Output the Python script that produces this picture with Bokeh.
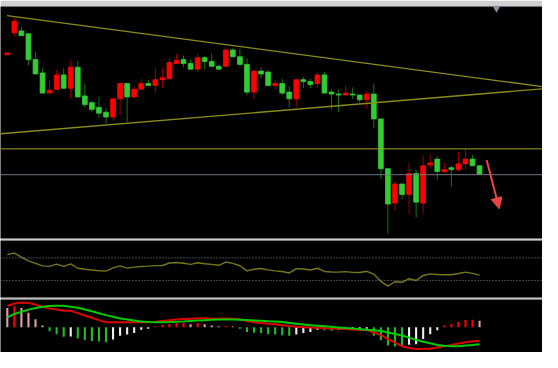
from bokeh.plotting import figure
from bokeh.layouts import column
from bokeh.models import Range1d, Span, Arrow, NormalHead, ColumnDataSource
from bokeh.embed import file_html
from bokeh.resources import INLINE

# ---------------- data ----------------
opens = [193, 216, 218, 215, 188, 174, 153, 157, 172, 158,
         180, 150, 143, 138, 133, 128, 147, 163, 149, 157,
         163, 161, 167, 168, 184, 188, 184, 178, 190, 186,
         181, 181, 198, 191, 183, 154, 176, 175, 161, 163,
         154, 147, 167, 165, 163, 172, 154, 152, 151, 152,
         151, 146, 152, 126, 74, 38, 58, 47, 69, 38,
         78, 84, 71, 75, 73, 79, 84, 77]
highs = [195, 232, 222, 215, 196, 179, 167, 177, 179, 187,
         187, 163, 145, 149, 137, 147, 163, 163, 160, 168,
         167, 179, 180, 189, 194, 192, 188, 194, 192, 194,
         183, 201, 200, 199, 189, 176, 180, 177, 167, 168,
         160, 167, 170, 168, 175, 175, 157, 157, 161, 159,
         151, 155, 163, 126, 74, 61, 58, 80, 73, 88,
         89, 87, 80, 77, 92, 95, 88, 78]
lows = [193, 212, 213, 182, 173, 153, 153, 156, 158, 147,
        149, 138, 133, 127, 121, 124, 130, 123, 149, 157,
        161, 153, 158, 168, 184, 180, 178, 175, 178, 181,
        178, 181, 190, 182, 151, 147, 169, 160, 157, 151,
        138, 139, 158, 158, 159, 153, 136, 133, 151, 147,
        143, 137, 116, 63, 6, 30, 42, 27, 23, 26,
        74, 62, 69, 55, 71, 73, 77, 68]
closes = [195, 228, 213, 188, 173, 153, 156, 172, 158, 180,
          149, 141, 136, 132, 128, 147, 163, 149, 157, 163,
          161, 167, 169, 185, 187, 184, 178, 190, 186, 181,
          178, 198, 191, 183, 154, 176, 173, 161, 163, 153,
          147, 167, 165, 162, 172, 153, 152, 151, 153, 151,
          146, 152, 126, 74, 37, 58, 47, 69, 39, 77,
          80, 71, 73, 73, 79, 84, 77, 68]

rsi = [75.9, 78.6, 71.4, 64.6, 60.2, 55.8, 55.0, 59.0, 54.8, 59.4,
       51.6, 49.9, 48.4, 47.2, 46.4, 52.3, 55.8, 51.9, 53.6, 54.8,
       55.3, 56.3, 56.5, 60.9, 61.9, 60.4, 58.4, 61.4, 59.7, 58.5,
       56.8, 62.6, 60.2, 56.0, 46.9, 49.9, 51.1, 48.6, 46.9, 45.9,
       43.2, 50.8, 50.3, 48.4, 51.6, 45.9, 44.8, 44.7, 45.5, 44.2,
       44.0, 46.2, 41.0, 28.3, 19.7, 27.6, 26.6, 33.0, 29.8, 38.8,
       41.6, 40.6, 40.1, 40.1, 42.3, 44.7, 42.5, 39.4]
rsi_levels = [70, 30]

macd_main = [21.9, 24.5, 25.7, 25.1, 23.4, 21.3, 19.4, 18.4, 17.0, 16.9,
             14.6, 12.1, 9.7, 7.3, 5.0, 5.0, 5.0, 5.0, 5.0, 5.0,
             5.0, 5.5, 6.4, 7.2, 8.0, 8.4, 8.8, 9.2, 9.2, 8.8,
             8.8, 9.0, 8.6, 8.1, 6.4, 5.2, 4.3, 3.6, 2.9, 1.9,
             1.1, 0.4, 0.0, -0.4, -0.7, -1.1, -1.4, -1.7, -2.0, -2.4,
             -2.7, -3.0, -5.5, -8.3, -12.3, -16.1, -19.8, -21.6, -22.6, -22.5,
             -22.3, -21.1, -19.7, -18.5, -17.0, -15.6, -14.7, -14.3]
macd_signal = [10.1, 13.7, 16.0, 18.2, 19.8, 21.1, 22.0, 22.3, 22.1, 21.2,
               20.1, 18.3, 16.5, 14.5, 12.5, 10.7, 8.9, 7.9, 6.8, 5.9,
               5.3, 5.0, 5.2, 5.4, 5.7, 6.0, 6.4, 6.8, 7.2, 7.6,
               7.9, 8.0, 8.0, 7.7, 7.4, 7.0, 6.6, 6.1, 5.8, 5.3,
               4.4, 3.5, 2.7, 2.1, 1.5, 0.9, 0.3, -0.3, -0.9, -1.5,
               -2.1, -2.7, -3.2, -4.0, -5.6, -7.1, -8.7, -10.9, -13.2, -15.1,
               -16.8, -18.5, -19.3, -19.9, -19.8, -19.0, -18.4, -17.7]
macd_hist = [20.0, 21.7, 20.0, 15.0, 8.3, 1.7, -4.3, -7.3, -10.0, -9.7,
             -11.7, -13.3, -14.3, -15.0, -15.7, -12.7, -9.0, -7.7, -6.0, -2.7,
             -1.7, 1.0, 2.3, 3.3, 4.3, 4.7, 3.0, 4.3, 3.0, 1.7,
             1.0, 1.3, 0.7, -1.7, -5.0, -5.7, -6.0, -7.3, -7.7, -8.3,
             -9.0, -7.7, -6.0, -5.0, -2.7, -3.3, -3.7, -3.0, -2.7, -2.3,
             -2.0, -1.7, -9.0, -13.3, -19.0, -20.0, -20.3, -18.3, -17.7, -12.3,
             -7.3, -3.3, 1.7, 3.3, 5.7, 7.3, 7.7, 6.7]
macd_hist_before = 22.0  # bar just left of the window

# drawn objects (bar index, price)
upper_trend = [(-0.04, 234.0), (76.0, 159.7)]
lower_trend = [(-0.97, 110.5), (76.0, 157.5)]
level_olive = 94.7
level_grey = 67.7
arrow_from = (68.0, 83.0)
arrow_to = (69.8, 32.0)
shift_marker = (69.4, 242.5)

n = len(opens)
idx = list(range(n))

# ---------------- styling ----------------
W = 542
RED, GREEN = "#ff0000", "#33cc33"
RED_WICK, GREEN_WICK = "#9a0000", "#0e7a0e"
OLIVE = "#8c8c1a"
SEP = "#bdbdbd"

x_rng = Range1d(-0.966, 75.93)


def base_fig(h, yr, top, bottom, border):
    p = figure(width=W, height=h, x_range=x_rng, y_range=yr, title=None,
               output_backend="svg", toolbar_location=None,
               x_axis_location=None, y_axis_location=None,
               min_border_left=0, min_border_right=0,
               min_border_top=top, min_border_bottom=bottom,
               background_fill_color="black", border_fill_color=border,
               outline_line_color=None)
    p.xgrid.visible = False
    p.ygrid.visible = False
    return p


# ---------------- main price panel ----------------
main = base_fig(240, Range1d(1, 243.5), 6, 2, "#cfcfcf")

up = [c >= o for o, c in zip(opens, closes)]
src = ColumnDataSource(dict(
    x=idx, high=highs, low=lows,
    top=[max(o, c) for o, c in zip(opens, closes)],
    bottom=[min(o, c) for o, c in zip(opens, closes)],
    fill=[RED if u else GREEN for u in up],
    wick=[RED_WICK if u else GREEN_WICK for u in up],
))
main.segment(x0="x", y0="low", x1="x", y1="high", source=src,
             line_color="wick", line_width=1)
main.vbar(x="x", width=0.68, top="top", bottom="bottom", source=src,
          fill_color="fill", line_color="fill", line_width=0.8)

for (a, b) in (upper_trend, lower_trend):
    main.line([a[0], b[0]], [a[1], b[1]], line_color=OLIVE, line_width=1.3)

main.add_layout(Span(location=level_olive, dimension="width",
                     line_color="#a3a324", line_width=1))
main.add_layout(Span(location=level_grey, dimension="width",
                     line_color="#6f7682", line_width=1))

acol = "#ee4444"
main.add_layout(Arrow(end=NormalHead(size=11, fill_color=acol, line_color=acol),
                      x_start=arrow_from[0], y_start=arrow_from[1],
                      x_end=arrow_to[0], y_end=arrow_to[1],
                      line_color=acol, line_width=2))
main.scatter([shift_marker[0]], [shift_marker[1]], marker="inverted_triangle",
             size=9, fill_color="#8595a6", line_color=None)

# ---------------- oscillator panel ----------------
osc = base_fig(59, Range1d(-0.4, 100.9), 0, 2, SEP)
for lv in rsi_levels:
    osc.add_layout(Span(location=lv, dimension="width", line_color="#8a8a8a",
                        line_width=1, line_dash="1 2"))
osc.line(idx, rsi, line_color="#77771a", line_width=1.4)

# ---------------- MACD panel ----------------
macd = base_fig(53, Range1d(-26.3, 28.7), 0, 0, "black")
prev = [macd_hist_before] + macd_hist[:-1]
cols = []
for v, pv in zip(macd_hist, prev):
    if v >= 0:
        cols.append("#ff0000" if v >= pv else "#dba3a3")
    else:
        cols.append("#22bb22" if v < pv else "#eeeeee")
macd.vbar(x=idx, width=0.3, top=macd_hist, bottom=0, fill_color=cols,
          line_color=None)
macd.line(idx, macd_main, line_color="#e00000", line_width=2)
macd.line(idx, macd_signal, line_color="#00cc00", line_width=2)

layout = column(main, osc, macd, spacing=0)
open("out.html", "w").write(file_html(layout, INLINE))
